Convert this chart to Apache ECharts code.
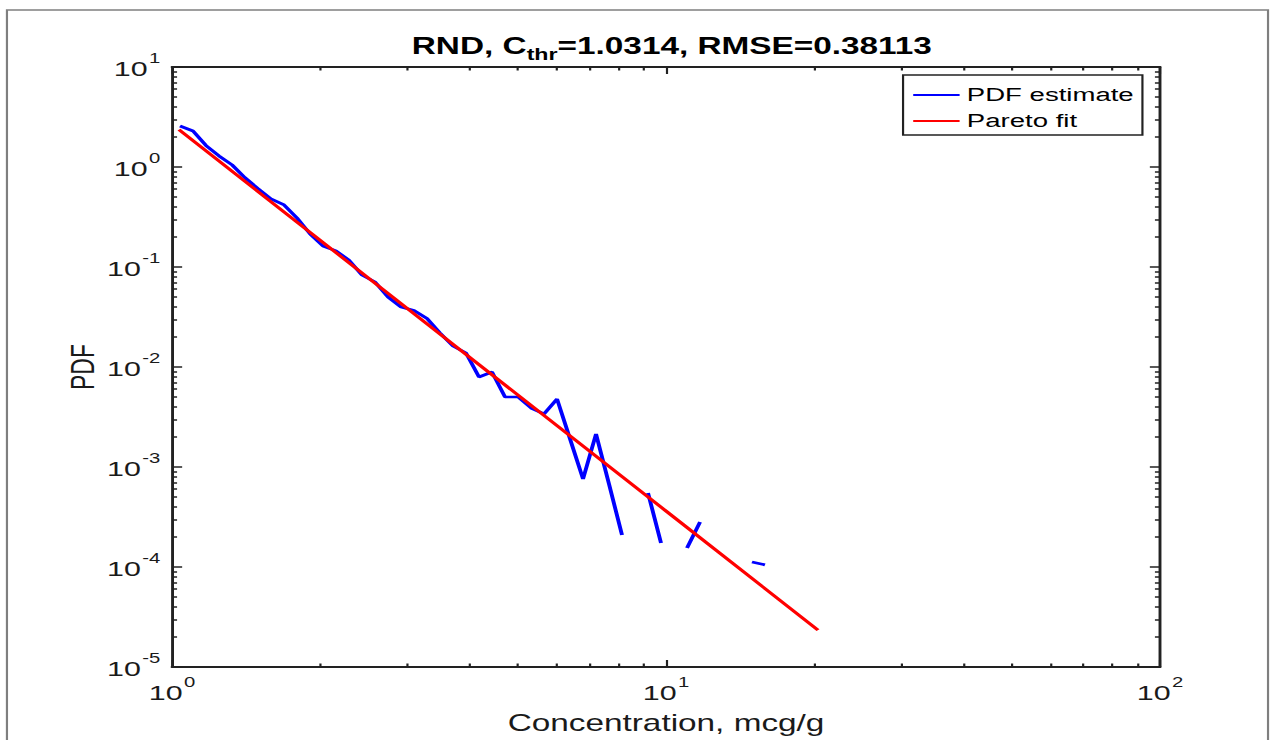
<!DOCTYPE html>
<html><head><meta charset="utf-8">
<script src="https://cdn.jsdelivr.net/npm/echarts@6/dist/echarts.min.js"></script>
<style>
html,body{margin:0;padding:0;background:#fff;overflow:hidden;width:1274px;height:740px}
#c{width:878.62px;height:740px;transform:scaleX(1.45);transform-origin:0 0;}
</style>
</head><body><div id="c"></div><script>
// PDF estimate (null = empty bin, gap in the line)
const concX = [1.038,1.103,1.172,1.245,1.323,1.405,1.493,1.586,1.686,1.791,
  1.903,2.021,2.148,2.282,2.424,2.576,2.737,2.908,3.090,3.283,
  3.487,3.705,3.937,4.183,4.444,4.722,5.017,5.331,5.662,6.018,
  6.393,6.793,7.217,7.667,8.146,8.655,9.196,9.770,10.38,11.03,
  11.72,12.45,13.23,14.05,14.93,15.86];
const pdfY = [2.57,2.29,1.64,1.29,1.05,0.782,0.607,0.479,0.417,0.309,
  0.214,0.162,0.145,0.117,0.0832,0.0708,0.0501,0.0398,0.0367,0.0305,
  0.0219,0.0162,0.0138,0.00794,0.00891,0.00501,0.00501,0.00389,0.00339,0.00479,
  0.00191,0.000759,0.00214,0.000676,0.000209,null,0.000550,0.000174,null,0.000155,
  0.000282,null,null,null,0.000112,0.000105];
// Pareto fit line
const fitX = [1.033, 3.162, 10, 20.31];
const fitY = [2.36, 0.0312, 3.63e-4, 2.34e-5];
// ticks
const xMajor = [1, 10, 100];
const yMajor = [1e-5, 1e-4, 1e-3, 1e-2, 1e-1, 1, 10];
const xMinor = [2,3,4,5,6,7,8,9,20,30,40,50,60,70,80,90];
const yMinor = [];
for (let e = -5; e <= 0; e++) for (let k = 2; k <= 9; k++) yMinor.push(parseFloat((k * Math.pow(10, e)).toPrecision(3)));

const FONT = 'Liberation Sans';
const TXT = '#1a1a1a';
const AX = '#222';
const MAJ = 7, MIN = 3.5;

function supLabel(v) {
  const e = Math.round(Math.log10(v));
  return '{b|10}{s|' + e + '}';
}
const rich = {
  b: {fontSize: 21, fontFamily: FONT, color: TXT, padding: [4, 0, 0, 0]},
  s: {fontSize: 14, fontFamily: FONT, color: TXT, padding: [0, 0, 18, 1]}
};

function mkAxis(dim, pos, major, showLine, showLabel, tickVals, tickLen, extra) {
  const isX = dim === 'x';
  const a = {
    type: 'log', logBase: 10, position: pos,
    min: isX ? 1 : 1e-5, max: isX ? 100 : 10,
    axisLine: {show: showLine, lineStyle: {color: AX, width: 2}},
    axisTick: {show: true, inside: true, length: tickLen, customValues: tickVals,
      lineStyle: {color: AX, width: 1.5}},
    axisLabel: {show: showLabel},
    splitLine: {show: false}, minorTick: {show: false}, minorSplitLine: {show: false}
  };
  if (showLabel) {
    a.axisLabel = {show: true, customValues: major, formatter: supLabel, rich: rich,
      margin: 8};
  }
  return Object.assign(a, extra || {});
}

const chart = echarts.init(document.getElementById('c'), null, {renderer: 'svg'});
chart.setOption({
  animation: false,
  backgroundColor: '#fff',
  graphic: [{type: 'rect', shape: {x: 4.8, y: 10, width: 869.7, height: 760},
    style: {fill: 'none', stroke: '#7f7f7f', lineWidth: 1.5}, z: -10}],
  title: {
    text: '{t|RND, C}{sub|thr}{t|=1.0314, RMSE=0.38113}',
    left: 279, top: 25,
    textStyle: {rich: {
      t: {fontSize: 23, fontWeight: 'bold', fontFamily: FONT, color: '#000'},
      sub: {fontSize: 16, fontWeight: 'bold', fontFamily: FONT, color: '#000', padding: [16, 0, 0, 0]}
    }}
  },
  legend: {
    orient: 'vertical', left: 622.8, top: 75,
    data: ['PDF estimate', 'Pareto fit'],
    icon: 'rect',
    itemWidth: 32, itemHeight: 2, itemGap: 6,
    padding: [10, 6, 4, 7],
    borderColor: '#222', borderWidth: 1.5, backgroundColor: '#fff',
    textStyle: {fontSize: 19, lineHeight: 20, fontFamily: FONT, color: '#000'}
  },
  grid: {left: 118.62, top: 67, width: 681.38, height: 600, containLabel: false},
  xAxis: [
    mkAxis('x', 'bottom', xMajor, true, true, xMajor, MAJ, {
      name: 'Concentration, mcg/g', nameLocation: 'middle', nameGap: 44, nameMoveOverlap: false,
      nameTextStyle: {fontSize: 23, fontFamily: FONT, color: TXT}}),
    mkAxis('x', 'bottom', xMajor, false, false, xMinor, MIN),
    mkAxis('x', 'top', xMajor, true, false, xMajor, MAJ),
    mkAxis('x', 'top', xMajor, false, false, xMinor, MIN)
  ],
  yAxis: [
    mkAxis('y', 'left', yMajor, true, true, yMajor, MAJ, {
      name: 'PDF', nameLocation: 'middle', nameGap: 50, nameMoveOverlap: false,
      nameTextStyle: {fontSize: 23, fontFamily: FONT, color: TXT}}),
    mkAxis('y', 'left', yMajor, false, false, yMinor, MIN),
    mkAxis('y', 'right', yMajor, true, false, yMajor, MAJ),
    mkAxis('y', 'right', yMajor, false, false, yMinor, MIN)
  ],
  series: [
    {name: 'PDF estimate', type: 'line', xAxisIndex: 0, yAxisIndex: 0,
      data: concX.map((x, i) => [x, pdfY[i] === null ? '-' : pdfY[i]]),
      symbol: 'none', connectNulls: false, clip: true,
      lineStyle: {color: '#0000ff', width: 2.7}, itemStyle: {color: '#0000ff'}},
    {name: 'Pareto fit', type: 'line', xAxisIndex: 0, yAxisIndex: 0,
      data: fitX.map((x, i) => [x, fitY[i]]),
      symbol: 'none', clip: true,
      lineStyle: {color: '#ff0000', width: 2.7}, itemStyle: {color: '#ff0000'}}
  ]
});
</script></body></html>
